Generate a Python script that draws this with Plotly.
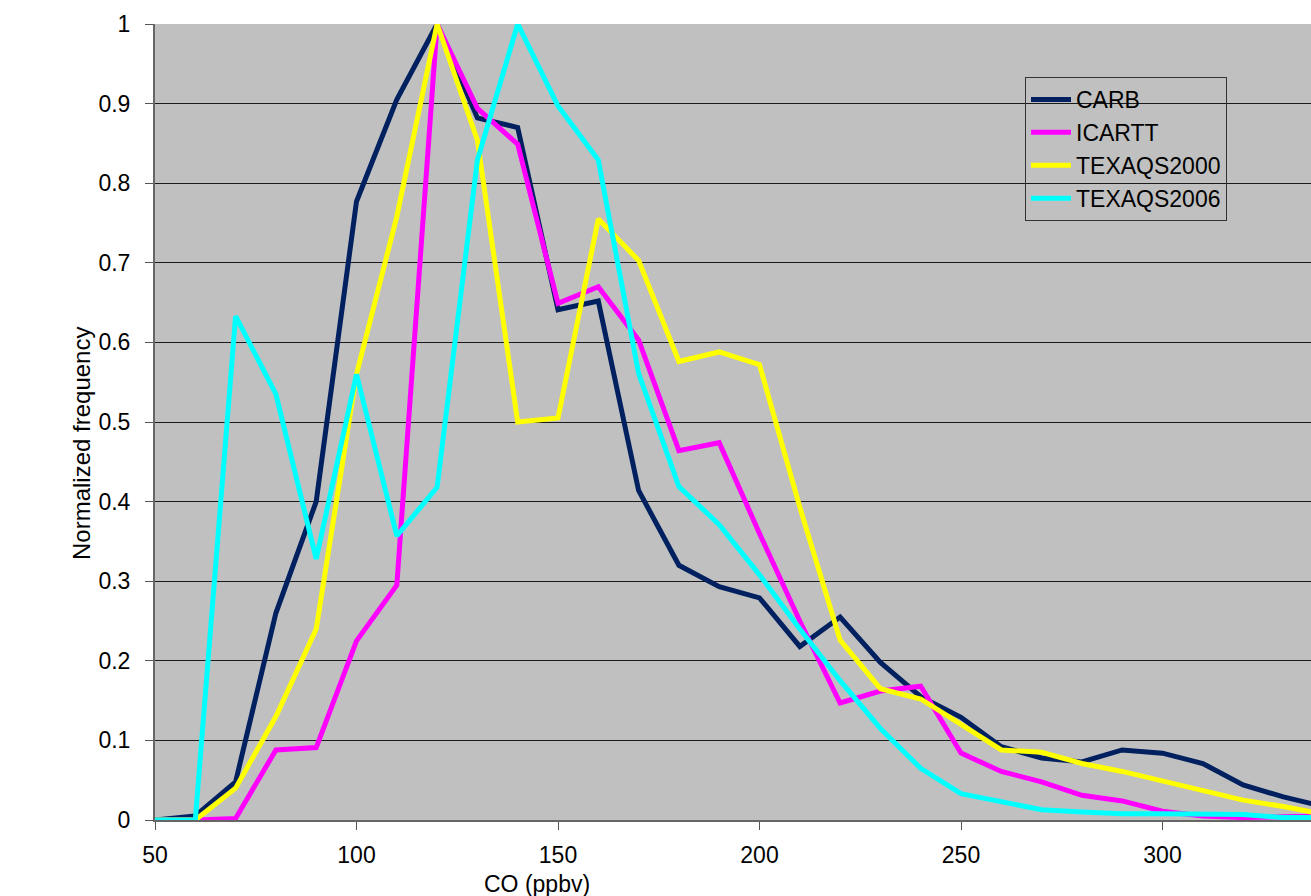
import plotly.graph_objects as go

# CO bins (ppbv)
co_bins = [50, 60, 70, 80, 90, 100, 110, 120, 130, 140, 150, 160, 170, 180, 190,
           200, 210, 220, 230, 240, 250, 260, 270, 280, 290, 300, 310, 320, 330, 340]

carb = [0, 0.005, 0.048, 0.26, 0.40, 0.777, 0.905, 1.0, 0.882, 0.870, 0.641, 0.652,
        0.414, 0.320, 0.293, 0.279, 0.218, 0.255, 0.198, 0.155, 0.129, 0.092, 0.078,
        0.073, 0.088, 0.084, 0.071, 0.044, 0.029, 0.017]
icartt = [0, 0, 0.002, 0.088, 0.091, 0.225, 0.295, 1.0, 0.894, 0.849, 0.649, 0.670,
          0.603, 0.464, 0.474, 0.36, 0.25, 0.147, 0.162, 0.168, 0.084, 0.061, 0.048,
          0.031, 0.024, 0.011, 0.005, 0.003, 0.004, 0.005]
texaqs2000 = [0, 0, 0.04, 0.13, 0.24, 0.56, 0.758, 1.0, 0.854, 0.500, 0.505, 0.755,
              0.703, 0.576, 0.588, 0.572, 0.393, 0.226, 0.165, 0.152, 0.120, 0.088,
              0.085, 0.071, 0.061, 0.049, 0.036, 0.025, 0.017, 0.007]
texaqs2006 = [0, 0, 0.633, 0.535, 0.328, 0.56, 0.357, 0.418, 0.829, 1.0, 0.897, 0.829,
              0.561, 0.419, 0.371, 0.308, 0.24, 0.175, 0.115, 0.065, 0.033, 0.023,
              0.013, 0.010, 0.008, 0.008, 0.008, 0.007, 0.003, 0.003]

series_names = ["CARB", "ICARTT", "TEXAQS2000", "TEXAQS2006"]
series_values = [carb, icartt, texaqs2000, texaqs2006]
series_colors = ["#00205f", "#ff00ff", "#ffff00", "#00ffff"]

y_ticks = [0, 0.1, 0.2, 0.3, 0.4, 0.5, 0.6, 0.7, 0.8, 0.9, 1]
y_tick_text = ["0", "0.1", "0.2", "0.3", "0.4", "0.5", "0.6", "0.7", "0.8", "0.9", "1"]
x_ticks = [50, 100, 150, 200, 250, 300]

W, H = 1311, 896
L, T, R, B = 155, 24, 0, 76

fig = go.Figure()
for name, vals, col in zip(series_names, series_values, series_colors):
    fig.add_trace(go.Scatter(x=co_bins, y=vals, name=name, mode="lines",
                             line=dict(color=col, width=5)))

font = "Liberation Sans, Arial, sans-serif"
fig.update_layout(
    width=W, height=H,
    margin=dict(l=L, r=R, t=T, b=B, pad=0),
    paper_bgcolor="white",
    plot_bgcolor="#c0c0c0",
    font=dict(family=font, size=23, color="black"),
    showlegend=True,
    legend=dict(
        x=(1025 - L) / (W - L - R), y=1 - (77 - T) / (H - T - B),
        xanchor="left", yanchor="top",
        bgcolor="rgba(0,0,0,0)", bordercolor="#333333", borderwidth=1,
        font=dict(family=font, size=23, color="black"),
        tracegroupgap=0, itemwidth=40,
    ),
    xaxis=dict(
        range=[50, 50 + (W - L - R) / 4.03],
        tickvals=x_ticks, ticks="outside", ticklen=8, tickcolor="#555555",
        showgrid=False, zeroline=False,
        showline=True, linecolor="#666666", linewidth=2,
        tickfont=dict(size=23), ticklabelstandoff=5,
    ),
    yaxis=dict(
        range=[0, 1], tickvals=y_ticks, ticktext=y_tick_text,
        ticks="outside", ticklen=8, tickcolor="#555555",
        showgrid=True, gridcolor="#1a1a1a", gridwidth=1,
        zeroline=False,
        showline=True, linecolor="#666666", linewidth=2,
        tickfont=dict(size=23), ticklabelstandoff=10,
    ),
    annotations=[
        dict(text="Normalized frequency", textangle=-90, showarrow=False,
             xref="paper", yref="paper",
             x=(82 - L) / (W - L - R), y=1 - (444 - T) / (H - T - B),
             xanchor="center", yanchor="middle", font=dict(size=24)),
        dict(text="CO (ppbv)", showarrow=False,
             xref="paper", yref="paper",
             x=(537 - L) / (W - L - R), y=1 - (884 - T) / (H - T - B),
             xanchor="center", yanchor="middle", font=dict(size=23)),
    ],
)

fig.write_html("out.html")
